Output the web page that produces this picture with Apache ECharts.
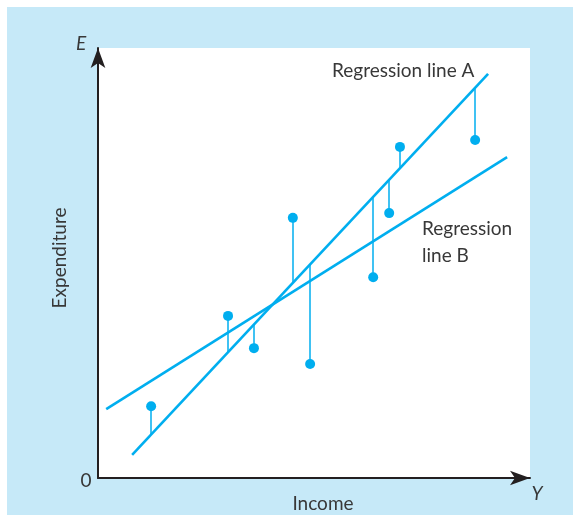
<!DOCTYPE html>
<html><head><meta charset="utf-8">
<script src="https://cdn.jsdelivr.net/npm/echarts@6/dist/echarts.min.js"></script>
<style>
html,body{margin:0;padding:0;background:#fff;}
#bg{position:absolute;left:7px;top:7px;width:566px;height:508px;background:#c6e9f8;}
#chart{position:absolute;left:0;top:0;width:573px;height:515px;}
</style></head>
<body><div id="bg"></div><div id="chart"></div>
<script>
// Observations (income, expenditure)
const pointX = [12.3, 30.1, 36.1, 45.1, 49.1, 63.7, 67.4, 69.9, 87.3];
const pointY = [16.7, 37.7, 30.2, 60.5, 26.5, 46.7, 61.6, 77.0, 78.6];
// Regression line endpoints
const lineAX = [7.9, 90.3];
const lineAY = [5.4, 94.0];
const lineBX = [1.9, 94.7];
const lineBY = [16.0, 74.6];

const C = '#00aeef';
const slopeA = (lineAY[1]-lineAY[0])/(lineAX[1]-lineAX[0]);
const onA = x => lineAY[0] + slopeA*(x-lineAX[0]);
const stems = pointX.map((x,i)=>({coords:[[x,pointY[i]],[x,onA(x)]]}));
const font = 'Lato, "Open Sans", sans-serif';
const txt = '#383838';

const chart = echarts.init(document.getElementById('chart'));
chart.setOption({
  animation:false,
  grid:{left:98,right:43,top:48,bottom:37,show:true,backgroundColor:'#fff',borderWidth:0},
  xAxis:{type:'value',min:0,max:100,splitLine:{show:false},axisTick:{show:false},axisLabel:{show:false},
    axisLine:{onZero:false,lineStyle:{color:'#231f20',width:2},symbol:['none','arrow'],symbolSize:[11,20],symbolOffset:[0,0]}},
  yAxis:{type:'value',min:0,max:100,splitLine:{show:false},axisTick:{show:false},axisLabel:{show:false},
    axisLine:{onZero:false,lineStyle:{color:'#231f20',width:2},symbol:['none','arrow'],symbolSize:[11,20],symbolOffset:[0,0]}},
  series:[
    {type:'line',data:lineAX.map((x,i)=>[x,lineAY[i]]),showSymbol:false,lineStyle:{color:C,width:2.6},z:2},
    {type:'line',data:lineBX.map((x,i)=>[x,lineBY[i]]),showSymbol:false,lineStyle:{color:C,width:2.6},z:2},
    {type:'lines',coordinateSystem:'cartesian2d',data:stems,lineStyle:{color:C,width:1.5,opacity:1},z:3},
    {type:'scatter',data:pointX.map((x,i)=>[x,pointY[i]]),symbolSize:10,itemStyle:{color:C,opacity:1},z:4}
  ],
  graphic:[
    {type:'text',x:332,y:71,style:{text:'Regression line A',font:'19px '+font,fill:txt,verticalAlign:'middle'}},
    {type:'text',x:422,y:229,style:{text:'Regression',font:'19px '+font,fill:txt,verticalAlign:'middle'}},
    {type:'text',x:422,y:256,style:{text:'line B',font:'19px '+font,fill:txt,verticalAlign:'middle'}},
    {type:'text',x:60,y:258,rotation:Math.PI/2,style:{text:'Expenditure',font:'19px '+font,fill:txt,align:'center',verticalAlign:'middle'}},
    {type:'text',x:323,y:504,style:{text:'Income',font:'19px '+font,fill:txt,align:'center',verticalAlign:'middle'}},
    {type:'text',x:81,y:44,style:{text:'E',font:'italic 19px '+font,fill:txt,align:'center',verticalAlign:'middle'}},
    {type:'text',x:86,y:481,style:{text:'0',font:'19px '+font,fill:txt,align:'center',verticalAlign:'middle'}},
    {type:'text',x:537,y:494,style:{text:'Y',font:'italic 19px '+font,fill:txt,align:'center',verticalAlign:'middle'}}
  ]
});
</script></body></html>
